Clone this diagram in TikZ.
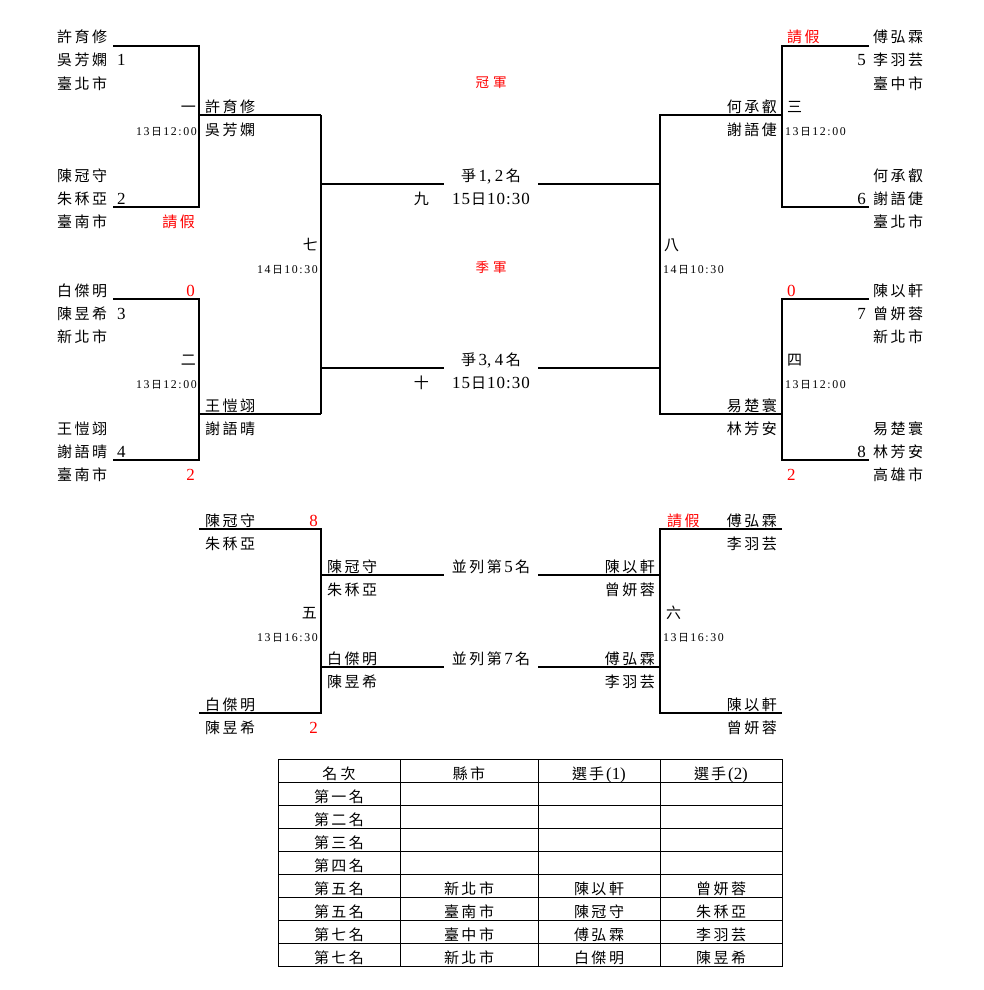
\documentclass[tikz,border=0pt]{standalone}
\usepackage{fontspec}
\setmainfont{Noto Sans CJK TC}
\newfontfamily\cjf{Noto Sans CJK TC}
\newfontfamily\lat[Scale=1.13]{Liberation Serif}
\makeatletter
\newcommand\spc[2]{\@tfor\zzch:=#2\do{\zzch\kern#1}\unkern}
\makeatother
\newcommand\N[1]{\spc{2.5pt}{#1}}
\newcommand\NE[1]{\expandafter\N\expandafter{#1}}
\newcommand\ds[2]{{\fontsize{10.5}{10.5}\selectfont\lat\spc{1.6pt}{#1{{\cjf 日}}#2}}}
\newcommand\dl[2]{{\lat\spc{1pt}{#1{{\cjf 日}}#2}}}
\newcommand\D[1]{{\lat #1}}
\tikzset{
  t/.style={inner sep=0pt, font=\fontsize{15}{15}\selectfont},
  L/.style={t, anchor=base west},
  R/.style={t, anchor=base east},
  C/.style={t, anchor=base},
  rd/.style={text=red},
  ln/.style={line width=1.1pt},
  tb/.style={line width=0.9pt}
}
\begin{document}
\begin{tikzpicture}[x=1pt,y=-1pt]
\useasboundingbox (0,0) rectangle (984,990);
\fill[white] (0,0) rectangle (984,990);
% bracket coordinates
\coordinate (a1) at (113,46); \coordinate (a2) at (199,46); \coordinate (a3) at (199,207); \coordinate (a4) at (113,207); \coordinate (a5) at (199,115);
\coordinate (b1) at (113,299); \coordinate (b2) at (199,299); \coordinate (b3) at (199,460); \coordinate (b4) at (113,460); \coordinate (b5) at (199,414);
\coordinate (c1) at (321,115); \coordinate (c2) at (321,414); \coordinate (c3) at (321,184); \coordinate (c4) at (444,184); \coordinate (c5) at (321,368); \coordinate (c6) at (444,368);
\coordinate (d1) at (660,115); \coordinate (d2) at (660,414); \coordinate (d3) at (660,184); \coordinate (d4) at (538,184); \coordinate (d5) at (660,368); \coordinate (d6) at (538,368); \coordinate (d7) at (782,115); \coordinate (d8) at (782,414);
\coordinate (e1) at (869,46); \coordinate (e2) at (782,46); \coordinate (e3) at (782,207); \coordinate (e4) at (869,207);
\coordinate (f1) at (869,299); \coordinate (f2) at (782,299); \coordinate (f3) at (782,460); \coordinate (f4) at (869,460);
\coordinate (g1) at (199,529); \coordinate (g2) at (321,529); \coordinate (g3) at (321,713); \coordinate (g4) at (199,713); \coordinate (g5) at (321,575); \coordinate (g6) at (444,575); \coordinate (g7) at (321,667); \coordinate (g8) at (444,667);
\coordinate (h1) at (782,529); \coordinate (h2) at (660,529); \coordinate (h3) at (660,713); \coordinate (h4) at (782,713); \coordinate (h5) at (660,575); \coordinate (h6) at (538,575); \coordinate (h7) at (660,667); \coordinate (h8) at (538,667);
\draw[ln] (a1)--(a2)--(a3)--(a4); \draw[ln] (a5)--(c1);
\draw[ln] (b1)--(b2)--(b3)--(b4); \draw[ln] (b5)--(c2);
\draw[ln] (c1)--(c2); \draw[ln] (c3)--(c4); \draw[ln] (c5)--(c6);
\draw[ln] (d7)--(d1)--(d2)--(d8); \draw[ln] (d3)--(d4); \draw[ln] (d5)--(d6);
\draw[ln] (e1)--(e2)--(e3)--(e4);
\draw[ln] (f1)--(f2)--(f3)--(f4);
\draw[ln] (g1)--(g2)--(g3)--(g4); \draw[ln] (g5)--(g6); \draw[ln] (g7)--(g8);
\draw[ln] (h1)--(h2)--(h3)--(h4); \draw[ln] (h5)--(h6); \draw[ln] (h7)--(h8);
% left column
\node[L] (l0) at (57,43) {\N{許育修}};
\node[L] (l1) at (57,66) {\N{吳芳嫻}};
\node[L] (l2) at (57,89) {\N{臺北市}};
\node[L] (l6) at (57,181) {\N{陳冠守}};
\node[L] (l7) at (57,204) {\N{朱秝亞}};
\node[L] (l8) at (57,227) {\N{臺南市}};
\node[L] (l11) at (57,296) {\N{白傑明}};
\node[L] (l12) at (57,319) {\N{陳昱希}};
\node[L] (l13) at (57,342) {\N{新北市}};
\node[L] (l17) at (57,434) {\N{王愷翊}};
\node[L] (l18) at (57,457) {\N{謝語晴}};
\node[L] (l19) at (57,480) {\N{臺南市}};
\node[L] (s1) at (117,66) {\D{1}};
\node[L] (s2) at (117,204) {\D{2}};
\node[L] (s3) at (117,319) {\D{3}};
\node[L] (s4) at (117,457) {\D{4}};
\node[R,rd] (r1) at (195,227) {\N{請假}};
\node[R,rd] (r2) at (195,296) {\D{0}};
\node[R,rd] (r3) at (195,480) {\D{2}};
\node[R] (m1) at (196,112) {一};
\node[R] (t1) at (197,135) {\ds{13}{12:00}};
\node[R] (m2) at (196,365) {二};
\node[R] (t2) at (197,388) {\ds{13}{12:00}};
\node[L] (w1) at (205,112) {\N{許育修}};
\node[L] (w2) at (205,135) {\N{吳芳嫻}};
\node[L] (w3) at (205,411) {\N{王愷翊}};
\node[L] (w4) at (205,434) {\N{謝語晴}};
\node[R] (m7) at (318,250) {七};
\node[R] (t7) at (318,273) {\ds{14}{10:30}};
% center
\node[C,rd,font=\fontsize{13.5}{13.5}\selectfont] (champ) at (491,88) {\spc{4pt}{冠軍}};
\node[C] (f12) at (491,181) {\spc{2.5pt}{爭{{\lat 1,\kern1pt}}{{\lat 2}}名}};
\node[R] (m9) at (429,204) {九};
\node[C] (t9) at (491,204) {\dl{15}{10:30}};
\node[C,rd,font=\fontsize{13.5}{13.5}\selectfont] (third) at (491,272) {\spc{4pt}{季軍}};
\node[C] (f34) at (491,365) {\spc{2.5pt}{爭{{\lat 3,\kern1pt}}{{\lat 4}}名}};
\node[R] (m10) at (429,388) {十};
\node[C] (t10) at (491,388) {\dl{15}{10:30}};
% right side
\node[L] (m8) at (664,250) {八};
\node[L] (t8) at (663,273) {\ds{14}{10:30}};
\node[R] (v1) at (777,112) {\N{何承叡}};
\node[R] (v2) at (777,135) {\N{謝語倢}};
\node[L] (m3) at (787,112) {三};
\node[L] (t3) at (785,135) {\ds{13}{12:00}};
\node[L,rd] (rr1) at (787,43) {\N{請假}};
\node[L] (q0) at (873,43) {\N{傅弘霖}};
\node[L] (q1) at (873,66) {\N{李羽芸}};
\node[L] (q2) at (873,89) {\N{臺中市}};
\node[L] (q6) at (873,181) {\N{何承叡}};
\node[L] (q7) at (873,204) {\N{謝語倢}};
\node[L] (q8) at (873,227) {\N{臺北市}};
\node[L] (q11) at (873,296) {\N{陳以軒}};
\node[L] (q12) at (873,319) {\N{曾妍蓉}};
\node[L] (q13) at (873,342) {\N{新北市}};
\node[L] (q17) at (873,434) {\N{易楚寰}};
\node[L] (q18) at (873,457) {\N{林芳安}};
\node[L] (q19) at (873,480) {\N{高雄市}};
\node[R] (s5) at (866,66) {\D{5}};
\node[R] (s6) at (866,204) {\D{6}};
\node[R] (s7) at (866,319) {\D{7}};
\node[R] (s8) at (866,457) {\D{8}};
\node[L,rd] (rr2) at (787,296) {\D{0}};
\node[L,rd] (rr3) at (787,480) {\D{2}};
\node[L] (m4) at (787,365) {四};
\node[L] (t4) at (785,388) {\ds{13}{12:00}};
\node[R] (v3) at (777,411) {\N{易楚寰}};
\node[R] (v4) at (777,434) {\N{林芳安}};
% bottom left
\node[L] (p1) at (205,526) {\N{陳冠守}};
\node[R,rd] (rb1) at (318,526) {\D{8}};
\node[L] (p2) at (205,549) {\N{朱秝亞}};
\node[L] (p3) at (327,572) {\N{陳冠守}};
\node[L] (p4) at (327,595) {\N{朱秝亞}};
\node[C] (f5) at (491,572) {\spc{2.5pt}{並列第{{\lat 5}}名}};
\node[R] (m5) at (317,618) {五};
\node[R] (t5) at (318,641) {\ds{13}{16:30}};
\node[L] (p5) at (327,664) {\N{白傑明}};
\node[L] (p6) at (327,687) {\N{陳昱希}};
\node[C] (f7) at (491,664) {\spc{2.5pt}{並列第{{\lat 7}}名}};
\node[L] (p7) at (205,710) {\N{白傑明}};
\node[L] (p8) at (205,733) {\N{陳昱希}};
\node[R,rd] (rb2) at (318,733) {\D{2}};
% bottom right
\node[L,rd] (rb3) at (667,526) {\N{請假}};
\node[R] (u1) at (777,526) {\N{傅弘霖}};
\node[R] (u2) at (777,549) {\N{李羽芸}};
\node[R] (u3) at (655,572) {\N{陳以軒}};
\node[R] (u4) at (655,595) {\N{曾妍蓉}};
\node[L] (m6) at (666,618) {六};
\node[L] (t6) at (663,641) {\ds{13}{16:30}};
\node[R] (u5) at (655,664) {\N{傅弘霖}};
\node[R] (u6) at (655,687) {\N{李羽芸}};
\node[R] (u7) at (777,710) {\N{陳以軒}};
\node[R] (u8) at (777,733) {\N{曾妍蓉}};
% table
\draw[tb] (278,759) rectangle (782,966);
\foreach \xx in {400,538,660} \draw[tb] (\xx,759) -- (\xx,966);
\foreach \k in {1,...,8} \draw[tb] (278,759+23*\k) -- (782,759+23*\k);
\node[C] (h1t) at (339,779) {\spc{3.5pt}{名次}};
\node[C] (h2t) at (469,779) {\N{縣市}};
\node[C] (h3t) at (599,779) {\spc{2pt}{選手{{\lat (1)}}}};
\node[C] (h4t) at (721,779) {\spc{2pt}{選手{{\lat (2)}}}};
\foreach \ra/\rb/\rc/\rdd [count=\i] in {第一名/{}/{}/{},第二名/{}/{}/{},第三名/{}/{}/{},第四名/{}/{}/{},第五名/新北市/陳以軒/曾妍蓉,第五名/臺南市/陳冠守/朱秝亞,第七名/臺中市/傅弘霖/李羽芸,第七名/新北市/白傑明/陳昱希}{
  \node[C] (ta\i) at (339,779+23*\i) {\NE{\ra}};
  \node[C] (tb\i) at (469,779+23*\i) {\NE{\rb}};
  \node[C] (tc\i) at (599,779+23*\i) {\NE{\rc}};
  \node[C] (td\i) at (721,779+23*\i) {\NE{\rdd}};
}
\end{tikzpicture}
\end{document}
